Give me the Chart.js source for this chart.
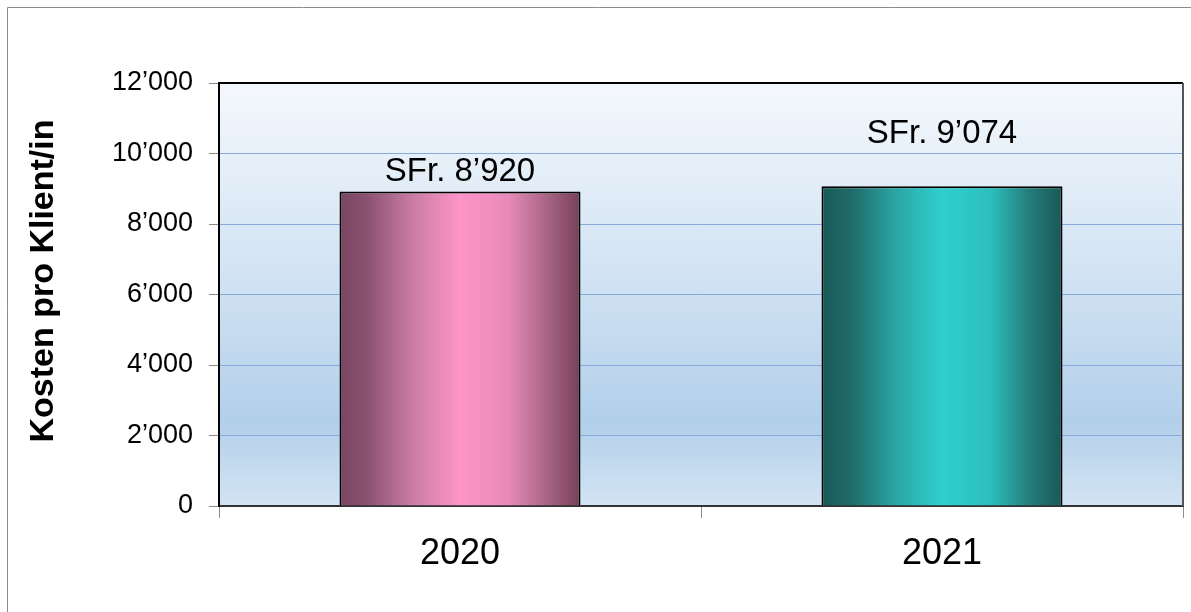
<!DOCTYPE html>
<html>
<head>
<meta charset="utf-8">
<script src="https://cdn.jsdelivr.net/npm/chart.js@4"></script>
<style>
  body { margin: 0; background: #fff; }
  canvas { display: block; }
</style>
</head>
<body>
<canvas id="chart" width="1191" height="612"></canvas>
<script>
// data
const years = ["2020", "2021"];
const costs = [8920, 9074];
const labelLift = [11, 43]; // labels were placed by hand in the original
const yTitle = "Kosten pro Klient/in";

const pinkStops = ["#784560", "#8c5373", "#c97ca4", "#ff94c7", "#e78bb9", "#a96486", "#754058"];
const tealStops = ["#195a58", "#1f6a68", "#2aa4a2", "#30cfce", "#2cbfbe", "#237e7c", "#195856"];
const stopPos = [0, 0.12, 0.3, 0.5, 0.7, 0.86, 1];

function swiss(v) {
  return String(v).replace(/\B(?=(\d{3})+(?!\d))/g, "\u2019");
}

function barGradient(ctx) {
  const chart = ctx.chart;
  const xs = chart.scales.x;
  if (!xs || !chart.chartArea) return "#ccc";
  const cx = xs.getPixelForValue(ctx.dataIndex);
  const w = (xs.width / years.length) * 0.5;
  const g = chart.ctx.createLinearGradient(cx - w / 2, 0, cx + w / 2, 0);
  const stops = ctx.dataIndex === 0 ? pinkStops : tealStops;
  stops.forEach((c, i) => g.addColorStop(stopPos[i], c));
  return g;
}

const plotBack = {
  id: "plotBack",
  beforeDraw(chart) {
    const { ctx, chartArea: a } = chart;
    ctx.save();
    // outer frame
    ctx.strokeStyle = "#8c8c8c";
    ctx.lineWidth = 1;
    ctx.beginPath();
    ctx.moveTo(7.5, 612);
    ctx.lineTo(7.5, 7.5);
    ctx.lineTo(1191, 7.5);
    ctx.stroke();
    // plot fill
    const g = ctx.createLinearGradient(0, a.top, 0, a.bottom);
    g.addColorStop(0, "#f4f8fc");
    g.addColorStop(0.45, "#d2e3f3");
    g.addColorStop(0.8, "#b2cfea");
    g.addColorStop(1, "#d3e4f3");
    ctx.fillStyle = g;
    ctx.fillRect(a.left, a.top, a.right - a.left, a.bottom - a.top);
    // y title, sits a bit above the middle in the original
    ctx.translate(53, 281);
    ctx.rotate(-Math.PI / 2);
    ctx.font = "bold 34px 'Liberation Sans', Arial, sans-serif";
    ctx.fillStyle = "#000";
    ctx.textAlign = "center";
    ctx.textBaseline = "alphabetic";
    ctx.fillText(yTitle, 0, 0);
    ctx.restore();
  },
  afterDraw(chart) {
    const { ctx, chartArea: a } = chart;
    ctx.save();
    ctx.strokeStyle = "#000";
    ctx.lineWidth = 2;
    ctx.beginPath();
    ctx.moveTo(a.left, a.bottom);
    ctx.lineTo(a.left, a.top);
    ctx.lineTo(a.right, a.top);
    ctx.stroke();
    ctx.strokeStyle = "#555";
    ctx.beginPath();
    ctx.moveTo(a.right, a.top);
    ctx.lineTo(a.right, a.bottom);
    ctx.stroke();
    ctx.restore();
  }
};

const valueLabels = {
  id: "valueLabels",
  afterDatasetsDraw(chart) {
    const { ctx } = chart;
    const meta = chart.getDatasetMeta(0);
    ctx.save();
    ctx.font = "33px 'Liberation Sans', Arial, sans-serif";
    ctx.fillStyle = "#000";
    ctx.textAlign = "center";
    ctx.textBaseline = "alphabetic";
    meta.data.forEach((bar, i) => {
      ctx.fillText("SFr. " + swiss(costs[i]), bar.x, bar.y - labelLift[i]);
    });
    ctx.restore();
  }
};

new Chart("chart", {
  type: "bar",
  data: {
    labels: years,
    datasets: [
      {
        data: costs,
        backgroundColor: barGradient,
        borderColor: "#000",
        borderWidth: 2,
        barPercentage: 0.5,
        categoryPercentage: 1,
      },
    ],
  },
  options: {
    responsive: false,
    animation: false,
    devicePixelRatio: 1,
    layout: { padding: { left: 0, top: 83, right: 8, bottom: 0 } },
    plugins: {
      legend: { display: false },
      tooltip: { enabled: false },
    },
    scales: {
      x: {
        afterFit(scale) { scale.height = 106; },
        grid: {
          offset: true,
          drawOnChartArea: false,
          tickLength: 12,
          tickColor: "#8c8c8c",
        },
        border: { color: "#333", width: 2 },
        ticks: {
          color: "#000",
          padding: 14,
          font: { family: "'Liberation Sans', Arial, sans-serif", size: 36 },
        },
      },
      y: {
        min: 0,
        max: 12000,
        afterFit(scale) { scale.width = 219; },
        grid: {
          color: "#87aadb",
          lineWidth: 1,
          tickLength: 10,
          tickColor: "#8c8c8c",
        },
        border: { color: "#000", width: 2 },
        ticks: {
          stepSize: 2000,
          color: "#000",
          padding: 16,
          font: { family: "'Liberation Sans', Arial, sans-serif", size: 27 },
          callback: (v) => swiss(v),
        },
      },
    },
  },
  plugins: [plotBack, valueLabels],
});
</script>
</body>
</html>
